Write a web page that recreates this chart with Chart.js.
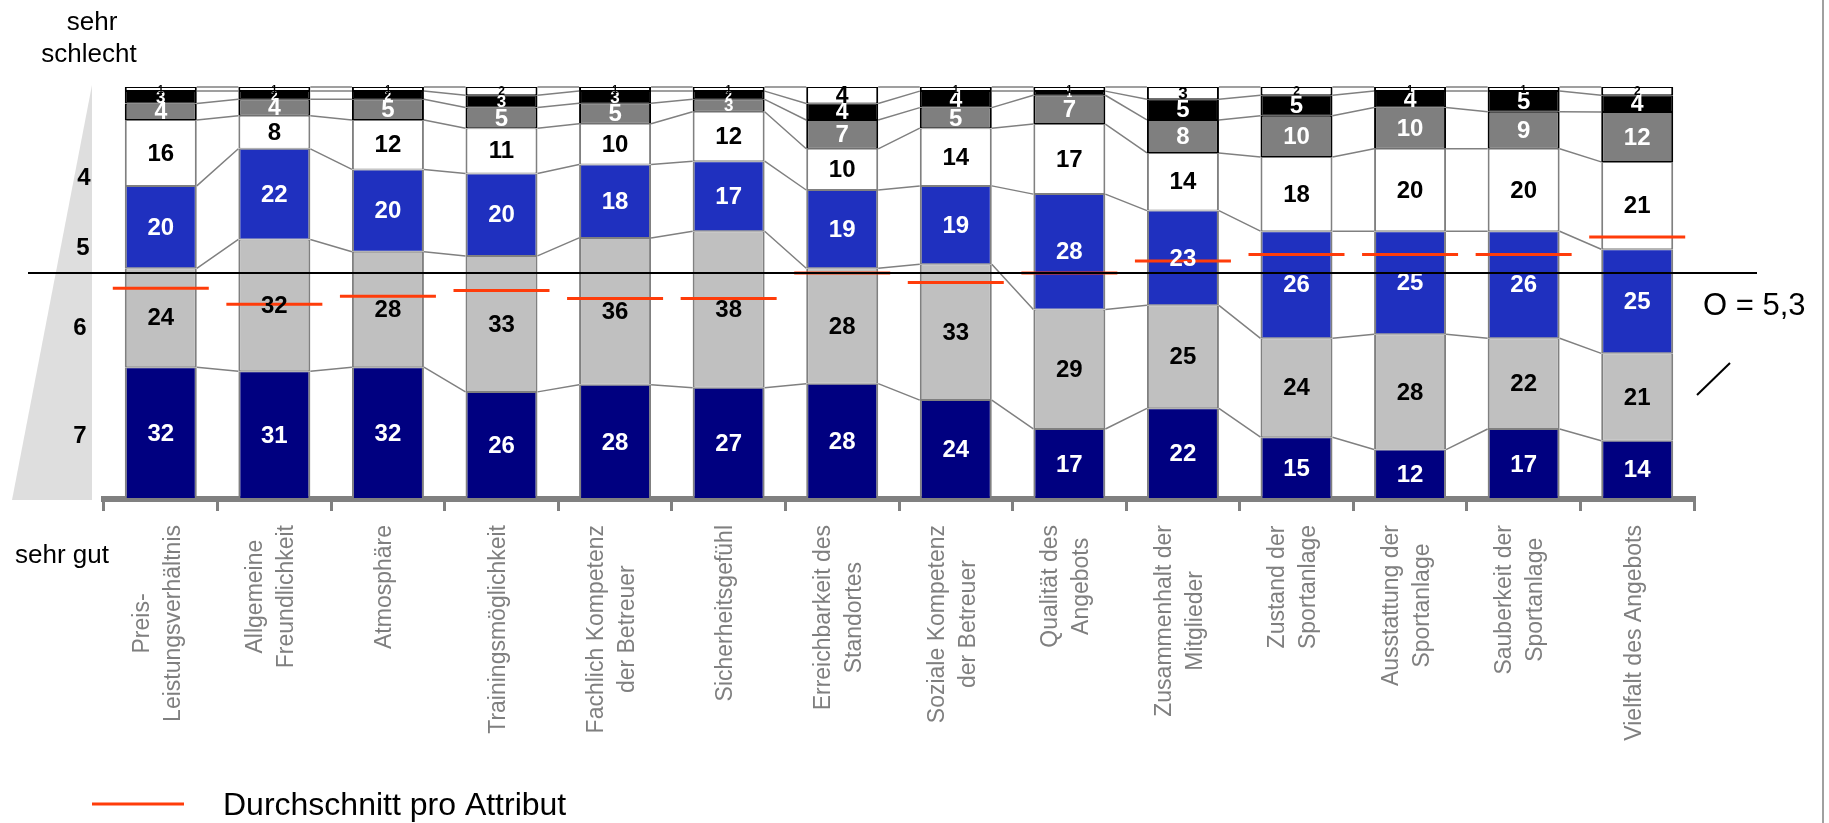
<!DOCTYPE html>
<html>
<head>
<meta charset="utf-8">
<script src="https://cdn.jsdelivr.net/npm/chart.js@4/dist/chart.umd.min.js"></script>
<style>
  html, body { margin: 0; padding: 0; background: #fff; }
  canvas { display: block; }
</style>
</head>
<body>
<canvas id="chart" width="1829" height="823"></canvas>
<script>
// Share of answers per grade (7 = sehr gut ... 1 = sehr schlecht), in %
const categories = [
  ['Preis-', 'Leistungsverhältnis'],
  ['Allgemeine', 'Freundlichkeit'],
  ['Atmosphäre'],
  ['Trainingsmöglichkeit'],
  ['Fachlich Kompetenz', 'der Betreuer'],
  ['Sicherheitsgefühl'],
  ['Erreichbarkeit des', 'Standortes'],
  ['Soziale Kompetenz', 'der Betreuer'],
  ['Qualität des', 'Angebots'],
  ['Zusammenhalt der', 'Mitglieder'],
  ['Zustand der', 'Sportanlage'],
  ['Ausstattung der', 'Sportanlage'],
  ['Sauberkeit der', 'Sportanlage'],
  ['Vielfalt des Angebots']
];
const grade7 = [32, 31, 32, 26, 28, 27, 28, 24, 17, 22, 15, 12, 17, 14];
const grade6 = [24, 32, 28, 33, 36, 38, 28, 33, 29, 25, 24, 28, 22, 21];
const grade5 = [20, 22, 20, 20, 18, 17, 19, 19, 28, 23, 26, 25, 26, 25];
const grade4 = [16, 8, 12, 11, 10, 12, 10, 14, 17, 14, 18, 20, 20, 21];
const grade3 = [4, 4, 5, 5, 5, 3, 7, 5, 7, 8, 10, 10, 9, 12];
const grade2 = [3, 2, 2, 3, 3, 2, 4, 4, 1, 5, 5, 4, 5, 4];
const grade1 = [1, 1, 1, 2, 1, 1, 4, 1, 1, 3, 2, 1, 1, 2];
// average grade per attribute (red marks) and overall average
const averages = [5.49, 5.69, 5.59, 5.52, 5.62, 5.62, 5.30, 5.42, 5.30, 5.15, 5.07, 5.07, 5.07, 4.85];
const overallAverage = 5.3;
const gradeLabels = ['4', '5', '6', '7'];
const legendLabel = 'Durchschnitt pro Attribut';

const FONT = '"Liberation Sans", Arial, sans-serif';
const RED = '#ff3c0a';

const gradeSeries = [grade7, grade6, grade5, grade4, grade3, grade2, grade1];
const segmentStyles = [
  { fill: '#000080', border: '#808080', text: '#ffffff' },
  { fill: '#c0c0c0', border: '#808080', text: '#000000' },
  { fill: '#1f30bf', border: '#808080', text: '#ffffff' },
  { fill: '#ffffff', border: '#808080', text: '#000000' },
  { fill: '#7f7f7f', border: '#000000', text: '#ffffff' },
  { fill: '#000000', border: '#000000', text: '#ffffff' },
  { fill: '#ffffff', border: '#000000', text: '#000000' }
];

// bars are shown as 100% stacks
const totals = categories.map((_, i) => gradeSeries.reduce((s, g) => s + g[i], 0));

const datasets = gradeSeries.map((vals, k) => ({
  type: 'bar',
  label: String(7 - k),
  data: vals.map((v, i) => v / totals[i] * 100),
  backgroundColor: segmentStyles[k].fill,
  borderColor: segmentStyles[k].border,
  borderWidth: { left: 2, right: 2, top: 1, bottom: 1 },
  borderSkipped: false,
  barPercentage: 0.634,
  categoryPercentage: 1,
  stack: 'grades',
  yAxisID: 'y'
}));

datasets.push({
  type: 'line',
  label: legendLabel,
  data: averages,
  yAxisID: 'y2',
  showLine: false,
  pointStyle: 'line',
  pointRadius: 48,
  pointBorderWidth: 3,
  pointBorderColor: RED,
  pointBackgroundColor: RED,
  order: -1
});

// where the grade labels sit on the wedge (in grade units of y2)
const gradeLabelPos = [4.11, 4.98, 5.98, 7.33];
const gradeLabelX = [84, 83, 80, 80];

const decor = {
  id: 'decor',
  beforeDraw(chart) {
    const { ctx, chartArea: a } = chart;
    ctx.save();
    // grey wedge on the left
    ctx.fillStyle = '#dedede';
    ctx.beginPath();
    ctx.moveTo(92, a.top - 2);
    ctx.lineTo(92, a.bottom + 1);
    ctx.lineTo(12, a.bottom + 1);
    ctx.closePath();
    ctx.fill();
    // frame edge
    ctx.fillStyle = '#a0a0a0';
    ctx.fillRect(1822, 0, 2, chart.height);

    ctx.fillStyle = '#000';
    ctx.font = `26px ${FONT}`;
    ctx.textAlign = 'center';
    ctx.textBaseline = 'alphabetic';
    ctx.fillText('sehr', 92, 30);
    ctx.fillText('schlecht', 89, 62);
    ctx.textAlign = 'left';
    ctx.fillText('sehr gut', 15, 563);

    ctx.font = `bold 24px ${FONT}`;
    ctx.textAlign = 'center';
    ctx.textBaseline = 'middle';
    const y2 = chart.scales.y2;
    gradeLabels.forEach((t, i) => ctx.fillText(t, gradeLabelX[i], y2.getPixelForValue(gradeLabelPos[i]) + 1));
    ctx.restore();
  },
  beforeDatasetsDraw(chart) {
    // connector lines between neighbouring bars
    const { ctx } = chart;
    ctx.save();
    ctx.strokeStyle = '#808080';
    ctx.lineWidth = 1.5;
    for (let k = 0; k < gradeSeries.length; k++) {
      const bars = chart.getDatasetMeta(k).data;
      ctx.beginPath();
      for (let i = 0; i < bars.length - 1; i++) {
        const p = bars[i], q = bars[i + 1];
        ctx.moveTo(p.x + p.width / 2, p.y);
        ctx.lineTo(q.x - q.width / 2, q.y);
      }
      ctx.stroke();
    }
    ctx.restore();
  },
  afterDatasetsDraw(chart) {
    const { ctx } = chart;
    ctx.save();
    ctx.textAlign = 'center';
    ctx.textBaseline = 'middle';
    for (let k = 0; k < gradeSeries.length; k++) {
      chart.getDatasetMeta(k).data.forEach((bar, i) => {
        const h = bar.base - bar.y;
        const size = Math.min(24, Math.max(10, Math.round(1.25 * h + 2)));
        ctx.save();
        // small segments: keep the number inside its box
        ctx.beginPath();
        ctx.rect(bar.x - bar.width / 2, bar.y - 2, bar.width, h + 4);
        ctx.clip();
        ctx.font = `bold ${size}px ${FONT}`;
        ctx.fillStyle = segmentStyles[k].text;
        ctx.fillText(String(gradeSeries[k][i]), bar.x, (bar.y + bar.base) / 2 + 1);
        ctx.restore();
      });
    }
    // overall average line
    const yAvg = chart.scales.y2.getPixelForValue(overallAverage);
    ctx.strokeStyle = '#000';
    ctx.lineWidth = 2;
    ctx.beginPath();
    ctx.moveTo(28, yAvg);
    ctx.lineTo(1757, yAvg);
    ctx.stroke();
    ctx.restore();
  },
  afterDraw(chart) {
    const { ctx } = chart;
    const xs = chart.scales.x;
    ctx.save();
    // category labels, rotated, lines centred on each other
    ctx.font = `23px ${FONT}`;
    ctx.fillStyle = '#7f7f7f';
    ctx.textAlign = 'center';
    ctx.textBaseline = 'middle';
    chart.data.labels.forEach((lines, i) => {
      const cx = xs.getPixelForValue(i) - 3;
      const w = Math.max(...lines.map(l => ctx.measureText(l).width));
      ctx.save();
      ctx.translate(cx, 525);
      ctx.rotate(-Math.PI / 2);
      lines.forEach((l, j) => ctx.fillText(l, -w / 2, (j - (lines.length - 1) / 2) * 31));
      ctx.restore();
    });

    // overall average note
    ctx.fillStyle = '#000';
    ctx.textAlign = 'left';
    ctx.textBaseline = 'alphabetic';
    ctx.font = `31px ${FONT}`;
    ctx.fillText('O = ' + String(overallAverage).replace('.', ','), 1703, 315);
    ctx.strokeStyle = '#000';
    ctx.lineWidth = 2;
    ctx.beginPath();
    ctx.moveTo(1697, 395);
    ctx.lineTo(1730, 363);
    ctx.stroke();

    // legend
    ctx.strokeStyle = RED;
    ctx.lineWidth = 3;
    ctx.beginPath();
    ctx.moveTo(92, 804);
    ctx.lineTo(184, 804);
    ctx.stroke();
    ctx.font = `32px ${FONT}`;
    ctx.fillText(legendLabel, 223, 815);
    ctx.restore();
  }
};

new Chart(document.getElementById('chart'), {
  data: { labels: categories, datasets },
  options: {
    responsive: false,
    devicePixelRatio: 1,
    animation: false,
    events: [],
    layout: { padding: { left: 104, right: 135, top: 87, bottom: 312 } },
    plugins: { legend: { display: false }, tooltip: { enabled: false } },
    scales: {
      x: {
        type: 'category',
        offset: true,
        grid: { offset: true, drawOnChartArea: false, drawTicks: true, tickLength: 12, lineWidth: 3, color: '#808080' },
        border: { display: true, color: '#808080', width: 6 },
        ticks: { display: false }
      },
      y: { stacked: true, min: 0, max: 100, display: false },
      y2: { min: 2.975, max: 8.125, reverse: true, display: false }
    }
  },
  plugins: [decor]
});
</script>
</body>
</html>
